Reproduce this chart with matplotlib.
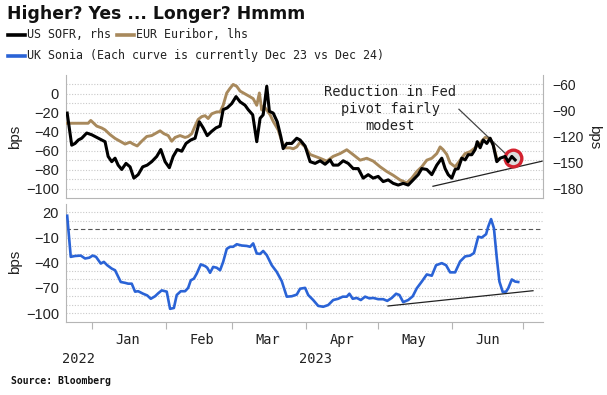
import matplotlib
matplotlib.use('Agg')
import matplotlib.pyplot as plt
import matplotlib.dates as mdates
import matplotlib.transforms as mtransforms
from matplotlib.lines import Line2D
import numpy as np
import pandas as pd

# ---------------- data (day offsets relative to 2023-01-01) ----------------
base = pd.Timestamp('2023-01-01')

euribor_days = [-10.4, -1.6, -0.5, 2.0, 4.1, 5.5, 7.6, 9.7, 11.8, 13.9, 16.0, 17.3, 19.0, 20.9, 23.0,
                25.1, 27.2, 28.6, 30.2, 32.0, 33.5, 34.9, 37.0, 39.1, 40.4, 41.9, 43.3, 44.6, 46.1, 47.5,
                48.8, 50.3, 52.4, 53.8, 55.1, 56.6, 58.0, 59.3, 60.8, 62.2, 64.3, 66.4, 67.7, 69.2, 70.3,
                71.3, 72.2, 73.4, 74.8, 76.1, 78.2, 79.7, 81.1, 83.2, 84.5, 86.0, 87.4, 89.5, 91.6, 95.8,
                98.6, 101.3, 104.2, 107.0, 109.6, 112.6, 115.4, 118.1, 121.0, 123.8, 126.5, 129.4, 132.2,
                134.3, 136.4, 138.5, 140.6, 142.7, 144.8, 146.2, 147.5, 149.0, 150.4, 152.5, 154.6, 156.7,
                158.8, 160.9, 163.0, 165.1, 167.2, 168.5, 170.0]
euribor_vals = [-31, -31, -28, -34, -36, -38, -43, -47, -50, -53, -51, -53, -55, -50, -45,
                -44, -41, -39, -42, -44, -50, -46, -44, -46, -45, -42, -34, -27, -24, -23,
                -26, -21, -19, -19, -12, 1, 6, 10, 8, 3, 0, -3, -5, -12, 1,
                -17, -13, -17, -22, -29, -38, -50, -57, -57, -58, -56, -51, -56, -64, -68,
                -71, -66, -63, -59, -64, -70, -68, -71, -77, -82, -86, -91, -94,
                -89, -82, -77, -70, -68, -63, -56, -59, -64, -73, -77, -70, -63,
                -61, -57, -52, -46, -47, -54, -68]

sofr_days = [-10.4, -8.5, -7.1, -5.7, -4.3, -2.2, -0.1, 2.0, 4.1, 5.5, 6.8, 8.3, 9.7, 11.0, 12.5,
             14.3, 16.0, 17.6, 19.4, 21.3, 23.2, 25.1, 27.2, 28.9, 30.7, 32.5, 34.1, 35.8, 37.7, 39.5,
             41.5, 43.3, 45.1, 46.7, 48.4, 50.3, 52.1, 53.8, 55.1, 56.8, 58.7, 60.5, 62.2, 64.3, 65.6,
             67.5, 69.2, 70.6, 71.9, 73.4, 74.5, 76.1, 77.8, 79.3, 80.3, 81.8, 83.9, 86.0, 87.4, 89.5,
             91.6, 93.7, 95.8, 97.9, 100.0, 101.3, 103.4, 105.5, 107.6, 109.7, 111.8, 113.9, 116.0,
             118.1, 120.2, 122.3, 124.4, 126.5, 128.6, 130.7, 132.8, 134.9, 137.0, 138.5, 140.6, 142.7,
             144.8, 146.9, 148.3, 149.6, 151.1, 152.5, 153.8, 155.3, 156.7, 158.0, 159.5, 160.9, 161.8,
             163.0, 164.3, 165.8, 167.2, 168.5, 170.0, 171.4, 173.5, 174.8, 176.3, 177.7]
sofr_vals = [-93, -130, -128, -124, -122, -116, -118, -121, -124, -126, -143, -149, -145, -153, -158,
             -151, -155, -168, -164, -155, -153, -149, -143, -135, -149, -156, -143, -135, -137, -128,
             -124, -122, -103, -110, -119, -114, -110, -108, -89, -87, -82, -74, -80, -84, -89,
             -95, -126, -99, -95, -62, -91, -93, -103, -120, -134, -128, -128, -122, -124, -131,
             -149, -151, -148, -152, -147, -153, -153, -148, -151, -157, -157, -168, -164,
             -168, -166, -172, -170, -174, -176, -174, -176, -170, -164, -157, -158, -164,
             -153, -145, -157, -164, -168, -158, -157, -145, -147, -141, -141, -135, -126,
             -133, -124, -128, -122, -130, -149, -145, -143, -149, -143, -147]

sonia_days = [-10.4, -8.9, -7.1, -4.7, -2.9, -1.1, 0.3, 1.7, 3.7, 5.0, 6.4, 8.3, 9.7, 12.1, 13.9,
              15.2, 16.7, 18.1, 19.4, 21.5, 23.2, 24.7, 26.5, 27.8, 29.3, 31.4, 32.8, 34.4, 35.6, 37.3,
              39.1, 40.4, 41.5, 42.8, 44.0, 45.7, 47.5, 48.4, 49.6, 50.9, 52.4, 53.8, 55.1, 56.6, 58.0,
              59.3, 60.8, 62.9, 65.0, 66.4, 67.7, 69.2, 70.6, 71.9, 73.4, 75.5, 77.6, 79.7, 81.8, 83.9,
              86.0, 87.4, 89.5, 90.8, 92.9, 95.0, 97.1, 99.2, 101.3, 103.4, 105.3, 107.0, 108.1, 109.5,
              111.2, 112.9, 114.7, 116.5, 118.1, 120.2, 122.3, 124.0, 125.9, 127.7, 129.1, 130.7, 132.8,
              134.7, 136.4, 138.5, 140.6, 142.7, 144.5, 146.9, 148.7, 150.4, 152.5, 154.6, 156.7, 158.8,
              160.4, 162.2, 163.7, 165.5, 166.4, 167.6, 168.8, 170.0, 171.1, 172.5, 173.9, 174.8, 176.3,
              177.7, 179.0]
sonia_vals = [16, -33, -32, -31.5, -35, -34, -31.5, -33, -41, -39, -43, -47, -49, -63, -64,
              -65, -65, -74.5, -74, -77, -79, -83, -80, -76.5, -73, -74.5, -95, -94, -78.5, -74,
              -74, -70, -61, -59, -53, -42, -44, -46, -52, -45, -46, -49, -39, -23.5, -21,
              -21, -18, -19.5, -20, -21, -17, -29, -29.5, -26, -31, -43, -51, -62, -80.5, -80,
              -78, -71, -70, -78.5, -84.5, -91.5, -92.5, -90.5, -84.5, -83, -80.5, -80.5, -77, -83,
              -82, -84.5, -80.5, -82.5, -82, -83.5, -83.5, -85.5, -82, -77, -78.5, -87, -84.5,
              -80, -70.5, -62.5, -54, -55.5, -43, -40.5, -43, -51.5, -51.5, -38.5, -32.5, -31.5,
              -28.5, -9, -10, -6, 3, 12, 1, -34.5, -62.5, -75, -74.5, -70.5, -60,
              -62.5, -63]

# annotations (day offsets / values)
top_trend_days, top_trend_vals = [143.2, 189.0], [-97.6, -71.1]        # lhs units
bot_trend_days, bot_trend_vals = [124.3, 185.2], [-91.6, -73.4]
pointer_days, pointer_vals = [154.1, 173.5], [-16.2, -62.7]            # lhs units
circle_day, circle_val = 176.8, -145                                   # rhs units
note_day, note_val = 125.2, -16
note_text = "Reduction in Fed\npivot fairly\nmodest"

month_labels_fmt = '%b'
year_labels = ['2022', '2023']
year_label_days = [-5.5, 94.0]
left_ticks_top = [0, -20, -40, -60, -80, -100]
right_ticks_top = [-60, -90, -120, -150, -180]
ticks_bottom = [20, -10, -40, -70, -100]


def to_dates(days):
    return base + pd.to_timedelta(np.asarray(days, dtype=float), unit='D')


# ---------------- styling ----------------
W, H = 607, 395
BLACK = '#000000'
TAN = '#a8895c'
BLUE = '#2a63d6'
GRID = '#c9c9c9'
SPINE = '#b5b5b5'
TXT = '#222222'
MONO = 'DejaVu Sans Mono'
SANS = 'Liberation Sans'

fig = plt.figure(figsize=(W / 100, H / 100), dpi=100)
ax1 = fig.add_axes([66 / W, 1 - 198 / H, 477 / W, 123 / H])
ax2 = fig.add_axes([66 / W, 1 - 322 / H, 477 / W, 118 / H])

xmin, xmax = to_dates([-10.9, 189.4])

# ---- top panel ----
ax1r = ax1.twinx()   # drawn above ax1, so the black line sits on top

ax1.plot(to_dates(euribor_days), euribor_vals, color=TAN, lw=2.1, zorder=3, solid_joinstyle='round')
ax1r.plot([to_dates([circle_day])[0]], [circle_val], marker='o', ms=12, mfc='#dcdcdc',
          mec='#d3222f', mew=2.4, zorder=2)
ax1r.plot(to_dates(sofr_days), sofr_vals, color=BLACK, lw=2.2, zorder=3, solid_joinstyle='round')
ax1.plot(to_dates(top_trend_days), top_trend_vals, color='#222222', lw=0.9, zorder=4)
ax1.plot(to_dates(pointer_days), pointer_vals, color='#444444', lw=0.9, zorder=4)
ax1.text(to_dates([note_day])[0], note_val, note_text, ha='center', va='center',
         fontsize=9.8, family=MONO, color='#222222', linespacing=1.25, zorder=5)

ax1.set_xlim(xmin, xmax)
ax1.set_ylim(-110, 20)
ax1r.set_ylim(-60 - 120 * 120 / 110, -60 + 10 * 120 / 110)
ax1.set_yticks(left_ticks_top)
ax1.set_yticks(np.arange(-100, 11, 10), minor=True)
ax1.yaxis.grid(True, which='both', color=GRID, ls=(0, (1, 1.5)), lw=0.8)
ax1.set_axisbelow(True)
ax1r.set_yticks(right_ticks_top)
ax1.tick_params(axis='y', which='both', length=0, pad=5, labelsize=10.5, labelcolor=TXT)
ax1r.tick_params(axis='y', which='both', length=0, pad=7, labelsize=10, labelcolor=TXT)
for lab in ax1.get_yticklabels() + ax1r.get_yticklabels():
    lab.set_family(SANS)
ax1.set_xticks([])
ax1r.set_xticks([])
for a in (ax1, ax1r):
    a.spines['top'].set_visible(False)
    for s in ['left', 'bottom', 'right']:
        a.spines[s].set_color(SPINE)
ax1r.spines['left'].set_visible(False)
ax1r.spines['bottom'].set_visible(False)
ax1.spines['right'].set_visible(False)

# ---- bottom panel ----
ax2.plot(to_dates(sonia_days), sonia_vals, color=BLUE, lw=1.9, zorder=3, solid_joinstyle='round')
ax2.plot(to_dates(bot_trend_days), bot_trend_vals, color='#222222', lw=0.9, zorder=4)
ax2.axhline(0, color='#555555', lw=0.8, ls=(0, (4, 2.5)), zorder=1)
ax2.set_xlim(xmin, xmax)
ax2.set_ylim(-110.7, 30)
ax2.set_yticks(ticks_bottom)
minor = [v for v in range(-100, 21, 10) if v != 0]
ax2.set_yticks(minor, minor=True)
ax2.yaxis.grid(True, which='both', color=GRID, ls=(0, (1, 1.5)), lw=0.8)
ax2.set_axisbelow(True)
ax2.tick_params(axis='y', which='both', length=0, pad=5, labelsize=10.5, labelcolor=TXT)
for lab in ax2.get_yticklabels():
    lab.set_family(SANS)
ax2.xaxis.set_major_locator(mdates.MonthLocator())
ax2.xaxis.set_major_formatter(plt.NullFormatter())
ax2.xaxis.set_minor_locator(mdates.MonthLocator(bymonthday=16))
ax2.xaxis.set_minor_formatter(mdates.DateFormatter(month_labels_fmt))
ax2.tick_params(axis='x', which='major', length=5, color=SPINE, direction='out')
ax2.tick_params(axis='x', which='minor', length=0, pad=8, labelsize=9.8, labelcolor=TXT)
for lab in ax2.xaxis.get_minorticklabels():
    lab.set_family(MONO)
for s in ['top', 'right']:
    ax2.spines[s].set_visible(False)
for s in ['left', 'bottom']:
    ax2.spines[s].set_color(SPINE)

trans = mtransforms.blended_transform_factory(ax2.transData, ax2.transAxes)
for lbl, d in zip(year_labels, year_label_days):
    ax2.text(to_dates([d])[0], -0.315, lbl, transform=trans, ha='center', va='center',
             fontsize=9.8, family=MONO, color=TXT)

# axis titles
fig.text(15 / W, 1 - 137 / H, 'bps', rotation=90, ha='center', va='center', fontsize=11,
         family=SANS, color=TXT)
fig.text(15 / W, 1 - 262 / H, 'bps', rotation=90, ha='center', va='center', fontsize=11,
         family=SANS, color=TXT)
fig.text(594 / W, 1 - 137 / H, 'bps', rotation=270, ha='center', va='center', fontsize=11,
         family=SANS, color=TXT)

# ---- title / legend / source ----
fig.text(7 / W, 1 - 14 / H, 'Higher? Yes ... Longer? Hmmm', ha='left', va='center',
         fontsize=12.4, fontweight='bold', family='DejaVu Sans', color='#111111')

leg_items = [
    (8, 35, BLACK, 'US SOFR, rhs'),
    (117, 35, TAN, 'EUR Euribor, lhs'),
    (8, 56, BLUE, 'UK Sonia (Each curve is currently Dec 23 vs Dec 24)'),
]
for x0, y0, col, lab in leg_items:
    fig.add_artist(Line2D([x0 / W, (x0 + 17) / W], [1 - y0 / H, 1 - y0 / H], color=col, lw=2.6,
                          transform=fig.transFigure))
    fig.text((x0 + 19) / W, 1 - y0 / H, lab, ha='left', va='center', fontsize=8.4,
             family=MONO, color='#222222')

fig.text(11 / W, 1 - 381 / H, 'Source: Bloomberg', ha='left', va='center', fontsize=7,
         fontweight='bold', family=MONO, color='#111111')

fig.savefig('out.png', dpi=100)
